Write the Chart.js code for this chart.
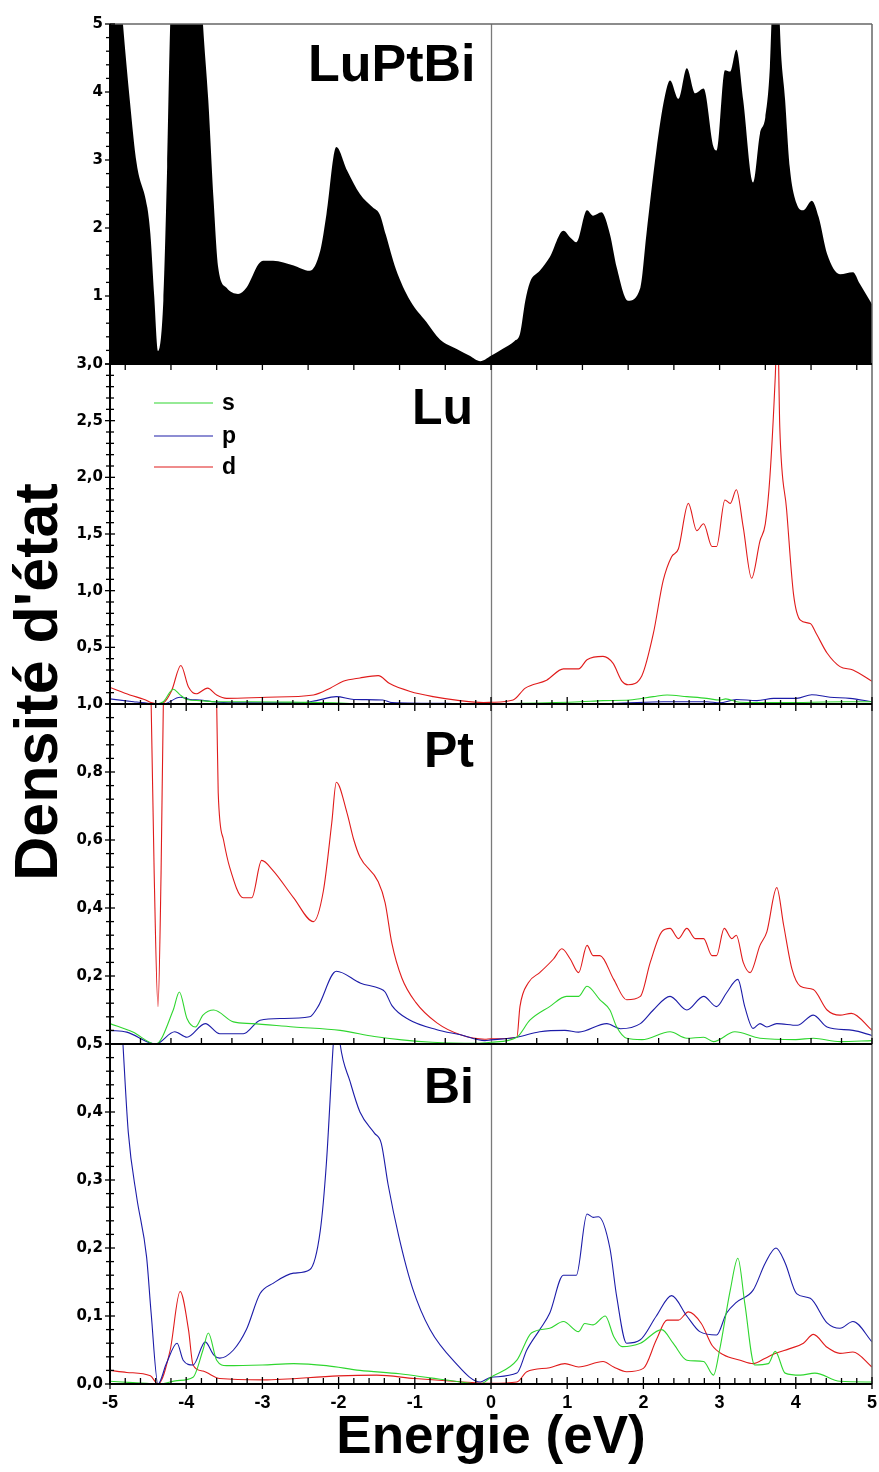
<!DOCTYPE html>
<html>
<head>
<meta charset="utf-8">
<script src="https://cdn.jsdelivr.net/npm/chart.js@4.4.1/dist/chart.umd.min.js"></script>
<style>
  html, body { margin: 0; padding: 0; background: #fff; }
  #wrap { position: relative; width: 879px; height: 1472px; }
</style>
</head>
<body>
<div id="wrap"><canvas id="dos" width="879" height="1472"></canvas></div>
<script>
// ---- densities of states, energy in eV ----
const totE = [-5.0, -4.9, -4.83, -4.74, -4.65, -4.51, -4.47, -4.42, -4.37, -4.30, -4.25, -4.21, -4.15, -3.85, -3.78, -3.71, -3.64, -3.58, -3.47, -3.32, -3.21, -3.05, -2.99, -2.86, -2.59, -2.38, -2.24, -2.16, -2.03, -1.89, -1.72, -1.55, -1.46, -1.38, -1.25, -1.06, -0.85, -0.67, -0.45, -0.28, -0.14, 0.0, 0.15, 0.31, 0.38, 0.45, 0.51, 0.64, 0.77, 0.95, 1.05, 1.12, 1.26, 1.34, 1.45, 1.56, 1.65, 1.80, 1.96, 2.04, 2.17, 2.28, 2.35, 2.46, 2.57, 2.68, 2.79, 2.92, 2.96, 3.07, 3.14, 3.22, 3.31, 3.44, 3.53, 3.60, 3.66, 3.68, 3.73, 3.76, 3.79, 3.86, 3.92, 4.01, 4.10, 4.21, 4.30, 4.41, 4.58, 4.75, 4.84, 5.0];
const totV = [6.5, 6.0, 5.0, 3.88, 2.95, 2.3, 1.91, 1.0, 0.19, 0.93, 2.9, 5.0, 6.5, 6.5, 5.0, 3.88, 2.4, 1.42, 1.12, 1.03, 1.12, 1.47, 1.52, 1.52, 1.45, 1.37, 1.67, 2.2, 3.19, 2.85, 2.5, 2.3, 2.2, 1.9, 1.4, 0.93, 0.62, 0.36, 0.22, 0.12, 0.04, 0.12, 0.22, 0.34, 0.44, 0.93, 1.2, 1.37, 1.57, 1.96, 1.85, 1.79, 2.26, 2.18, 2.23, 1.91, 1.42, 0.93, 1.12, 1.91, 3.14, 3.93, 4.17, 3.9, 4.35, 3.98, 4.05, 3.19, 3.14, 4.32, 4.3, 4.62, 3.88, 2.67, 3.39, 3.63, 4.37, 5.0, 6.5, 6.5, 5.0, 3.88, 2.9, 2.36, 2.26, 2.4, 2.16, 1.62, 1.32, 1.35, 1.18, 0.88];

const luSE = [-5.0, -4.4, -4.3, -4.17, -4.08, -3.99, -3.82, -3.6, -3.16, -2.5, -2.07, -1.85, -1.0, 0.0, 0.29, 1.17, 1.47, 1.82, 2.13, 2.31, 2.57, 2.83, 3.0, 3.08, 3.26, 3.79, 4.66, 5.0];
const luSV = [0.005, 0.0, 0.02, 0.13, 0.08, 0.04, 0.03, 0.02, 0.02, 0.015, 0.01, 0.005, 0.003, 0.002, 0.005, 0.02, 0.03, 0.035, 0.065, 0.08, 0.065, 0.05, 0.035, 0.045, 0.015, 0.012, 0.02, 0.02];
const luPE = [-5.0, -4.69, -4.47, -4.3, -4.08, -3.95, -3.82, -3.65, -3.4, -2.5, -2.29, -2.03, -1.8, -1.42, -1.3, -0.5, 0.0, 0.29, 1.6, 2.26, 2.83, 3.0, 3.22, 3.49, 3.71, 4.01, 4.21, 4.45, 4.71, 5.0];
const luPV = [0.045, 0.02, 0.005, 0.0, 0.06, 0.04, 0.035, 0.02, 0.01, 0.01, 0.03, 0.065, 0.04, 0.035, 0.012, 0.005, 0.002, 0.003, 0.005, 0.02, 0.02, 0.01, 0.04, 0.03, 0.05, 0.05, 0.082, 0.06, 0.05, 0.02];
const luDE = [-5.0, -4.74, -4.55, -4.45, -4.37, -4.3, -4.19, -4.07, -3.97, -3.87, -3.72, -3.60, -3.47, -2.94, -2.33, -2.11, -1.94, -1.72, -1.48, -1.33, -1.06, -0.76, -0.41, -0.10, 0.0, 0.29, 0.45, 0.73, 0.95, 1.15, 1.26, 1.47, 1.6, 1.72, 1.80, 1.98, 2.13, 2.26, 2.37, 2.46, 2.59, 2.70, 2.79, 2.90, 2.96, 3.07, 3.14, 3.22, 3.31, 3.42, 3.53, 3.60, 3.66, 3.73, 3.76, 3.79, 3.88, 3.97, 4.06, 4.19, 4.27, 4.41, 4.58, 4.75, 5.0];
const luDV = [0.146, 0.08, 0.04, 0.01, 0.0, 0.01, 0.12, 0.34, 0.15, 0.09, 0.14, 0.08, 0.05, 0.06, 0.08, 0.14, 0.20, 0.23, 0.25, 0.18, 0.11, 0.065, 0.03, 0.013, 0.015, 0.035, 0.14, 0.21, 0.31, 0.31, 0.39, 0.42, 0.36, 0.2, 0.17, 0.25, 0.62, 1.09, 1.30, 1.37, 1.77, 1.53, 1.59, 1.39, 1.39, 1.80, 1.77, 1.89, 1.56, 1.11, 1.44, 1.59, 2.0, 2.88, 3.4, 2.44, 1.71, 0.97, 0.74, 0.71, 0.62, 0.45, 0.33, 0.30, 0.20];

const ptSE = [-5.0, -4.7, -4.4, -4.17, -4.09, -3.99, -3.88, -3.78, -3.64, -3.38, -3.14, -2.59, -1.98, -1.53, -1.17, -0.77, -0.2, 0.0, 0.34, 0.51, 0.77, 0.99, 1.15, 1.26, 1.43, 1.56, 1.65, 1.78, 1.98, 2.35, 2.57, 2.79, 2.92, 3.2, 3.53, 4.0, 4.23, 4.58, 5.0];
const ptSV = [0.06, 0.035, 0.0, 0.10, 0.153, 0.075, 0.05, 0.085, 0.10, 0.065, 0.06, 0.05, 0.04, 0.022, 0.012, 0.005, 0.002, 0.005, 0.02, 0.07, 0.11, 0.14, 0.14, 0.17, 0.13, 0.10, 0.05, 0.017, 0.013, 0.036, 0.017, 0.02, 0.007, 0.036, 0.017, 0.013, 0.017, 0.007, 0.01];
const ptPE = [-5.0, -4.78, -4.4, -4.15, -3.99, -3.75, -3.56, -3.25, -3.03, -2.75, -2.38, -2.27, -2.03, -1.71, -1.46, -1.39, -1.30, -1.08, -0.71, -0.40, -0.08, 0.0, 0.34, 0.64, 0.97, 1.15, 1.52, 1.7, 1.96, 2.13, 2.35, 2.57, 2.79, 2.96, 3.09, 3.24, 3.33, 3.44, 3.53, 3.62, 3.75, 4.02, 4.23, 4.41, 4.75, 5.0];
const ptPV = [0.04, 0.035, 0.0, 0.036, 0.02, 0.06, 0.03, 0.03, 0.07, 0.075, 0.08, 0.11, 0.214, 0.179, 0.163, 0.153, 0.113, 0.072, 0.042, 0.027, 0.01, 0.012, 0.02, 0.036, 0.04, 0.035, 0.06, 0.045, 0.06, 0.10, 0.14, 0.10, 0.14, 0.11, 0.15, 0.19, 0.11, 0.046, 0.06, 0.05, 0.06, 0.055, 0.085, 0.05, 0.04, 0.025];
const ptDE = [-5.0, -4.5, -4.46, -4.42, -4.37, -4.33, -4.30, -4.25, -3.65, -3.60, -3.58, -3.51, -3.43, -3.25, -3.14, -3.01, -2.86, -2.59, -2.33, -2.20, -2.09, -2.03, -1.89, -1.80, -1.72, -1.48, -1.39, -1.30, -1.17, -0.99, -0.71, -0.40, -0.08, 0.0, 0.34, 0.38, 0.49, 0.64, 0.82, 0.93, 1.04, 1.15, 1.26, 1.34, 1.43, 1.61, 1.78, 1.96, 2.09, 2.24, 2.35, 2.46, 2.57, 2.68, 2.79, 2.90, 2.96, 3.06, 3.16, 3.22, 3.31, 3.40, 3.53, 3.62, 3.75, 3.84, 3.95, 4.06, 4.23, 4.41, 4.58, 4.73, 5.0];
const ptDV = [1.3, 1.3, 1.0, 0.5, 0.11, 0.5, 1.0, 1.3, 1.3, 1.0, 0.74, 0.6, 0.52, 0.43, 0.43, 0.54, 0.51, 0.43, 0.36, 0.45, 0.65, 0.77, 0.68, 0.60, 0.55, 0.477, 0.416, 0.295, 0.194, 0.123, 0.062, 0.027, 0.014, 0.015, 0.02, 0.11, 0.18, 0.21, 0.25, 0.28, 0.25, 0.21, 0.29, 0.26, 0.26, 0.19, 0.13, 0.14, 0.24, 0.33, 0.34, 0.31, 0.34, 0.31, 0.31, 0.26, 0.26, 0.34, 0.31, 0.32, 0.24, 0.21, 0.29, 0.33, 0.46, 0.35, 0.22, 0.17, 0.16, 0.10, 0.085, 0.09, 0.04];

const biSE = [-5.0, -4.7, -4.35, -4.12, -3.91, -3.78, -3.71, -3.6, -3.47, -3.0, -2.59, -2.16, -1.72, -1.2, -0.8, -0.4, -0.14, 0.0, 0.34, 0.53, 0.77, 0.95, 1.15, 1.23, 1.34, 1.50, 1.61, 1.72, 1.96, 2.24, 2.39, 2.57, 2.79, 2.92, 3.0, 3.14, 3.24, 3.33, 3.46, 3.64, 3.73, 3.86, 4.06, 4.25, 4.58, 5.0];
const biSV = [0.004, 0.002, 0.0, 0.005, 0.01, 0.05, 0.075, 0.035, 0.027, 0.028, 0.03, 0.027, 0.02, 0.015, 0.009, 0.003, 0.0, 0.01, 0.035, 0.075, 0.082, 0.092, 0.077, 0.089, 0.087, 0.1, 0.07, 0.055, 0.06, 0.08, 0.06, 0.035, 0.033, 0.013, 0.05, 0.138, 0.185, 0.119, 0.028, 0.03, 0.048, 0.016, 0.013, 0.016, 0.004, 0.003];
const biPE = [-5.0, -4.88, -4.83, -4.76, -4.65, -4.52, -4.46, -4.37, -4.26, -4.12, -4.04, -3.91, -3.75, -3.64, -3.56, -3.38, -3.21, -3.03, -2.86, -2.59, -2.38, -2.24, -2.16, -2.07, -2.03, -1.98, -1.85, -1.72, -1.53, -1.44, -1.35, -1.21, -1.03, -0.80, -0.49, -0.14, 0.0, 0.34, 0.47, 0.64, 0.77, 0.95, 1.12, 1.26, 1.34, 1.41, 1.56, 1.65, 1.78, 1.96, 2.17, 2.37, 2.57, 2.74, 2.96, 3.09, 3.22, 3.44, 3.60, 3.74, 3.86, 4.01, 4.19, 4.41, 4.58, 4.75, 5.0];
const biPV = [0.7, 0.6, 0.5, 0.37, 0.275, 0.187, 0.104, 0.0, 0.03, 0.06, 0.035, 0.028, 0.062, 0.043, 0.038, 0.05, 0.08, 0.133, 0.148, 0.163, 0.168, 0.226, 0.325, 0.5, 0.56, 0.5, 0.445, 0.40, 0.369, 0.354, 0.293, 0.217, 0.141, 0.08, 0.034, 0.003, 0.01, 0.016, 0.05, 0.08, 0.104, 0.16, 0.16, 0.25, 0.245, 0.246, 0.20, 0.128, 0.06, 0.065, 0.10, 0.13, 0.10, 0.077, 0.072, 0.104, 0.12, 0.138, 0.178, 0.20, 0.178, 0.133, 0.126, 0.09, 0.082, 0.092, 0.062];
const biDE = [-5.0, -4.78, -4.47, -4.37, -4.21, -4.08, -3.97, -3.91, -3.78, -3.56, -2.99, -2.0, -1.5, -1.0, -0.5, 0.0, 0.34, 0.47, 0.77, 0.97, 1.15, 1.47, 1.61, 1.78, 2.0, 2.17, 2.31, 2.46, 2.59, 2.76, 2.9, 3.05, 3.27, 3.44, 3.6, 3.73, 3.92, 4.1, 4.23, 4.41, 4.58, 4.75, 5.0];
const biDV = [0.02, 0.017, 0.012, 0.0, 0.05, 0.136, 0.08, 0.028, 0.019, 0.008, 0.006, 0.012, 0.013, 0.008, 0.004, 0.001, 0.003, 0.018, 0.024, 0.03, 0.025, 0.033, 0.025, 0.018, 0.023, 0.065, 0.094, 0.094, 0.106, 0.089, 0.057, 0.043, 0.035, 0.03, 0.038, 0.045, 0.052, 0.06, 0.073, 0.054, 0.045, 0.047, 0.025];

// panel titles and legend entries
const panelNames = ['LuPtBi', 'Lu', 'Pt', 'Bi'];
const orbitals = ['s', 'p', 'd'];

const GREEN = '#2fd62f', BLUE = '#1c1ca8', RED = '#e01b1b';
const orbColors = [GREEN, BLUE, RED];
const FONT = '"Liberation Sans", Arial, sans-serif';
const WIDE = '"DejaVu Sans", Verdana, sans-serif';
const NARROW = '"Liberation Sans Narrow", "Liberation Sans", Arial, sans-serif';

const pts = (E, V) => E.map((e, i) => ({ x: e, y: V[i] }));
const isMult = (v, m) => Math.abs(v / m - Math.round(v / m)) < 1e-6;
function stepTicks(min, max, step) {
    const out = [];
    const n = Math.round((max - min) / step);
    for (let i = 0; i <= n; i++) out.push(+(min + i * step).toFixed(4));
    return out;
}

// y axes: max, minor step, major step, decimals, keep the zero label
const axisSpec = {
    yTot: { max: 5, minor: 0.2, major: 1, digits: 0, zero: false },
    yLu:  { max: 3, minor: 0.1, major: 0.5, digits: 1, zero: false },
    yPt:  { max: 1, minor: 0.04, major: 0.2, digits: 1, zero: false },
    yBi:  { max: 0.5, minor: 0.02, major: 0.1, digits: 1, zero: true }
};

function panelAxis(id) {
    const a = axisSpec[id];
    return {
        type: 'linear', position: 'left', stack: 'dos', stackWeight: 1,
        min: 0, max: a.max,
        grid: { display: false, drawTicks: false },
        border: { display: false },
        afterBuildTicks: s => { s.ticks = stepTicks(0, a.max, a.minor).map(v => ({ value: v })); },
        afterFit: s => { s.width = 110; },
        ticks: {
            autoSkip: false, padding: 7, color: '#000',
            font: { family: WIDE, size: 15, weight: 'bold' },
            callback: v => {
                if (!isMult(v, a.major)) return '';
                if (Math.abs(v) < 1e-9 && !a.zero) return '';
                return v.toFixed(a.digits).replace('.', ',');
            }
        }
    };
}

const line = (E, V, color, axis) => ({
    data: pts(E, V), yAxisID: axis, borderColor: color, borderWidth: 1.1,
    pointRadius: 0, fill: false, cubicInterpolationMode: 'monotone'
});

// keep each curve inside its own panel
const panelClip = {
    id: 'panelClip',
    beforeDatasetDraw(chart, args) {
        const ys = chart.scales[args.meta.yAxisID];
        const a = chart.chartArea;
        const ctx = chart.ctx;
        ctx.save();
        ctx.beginPath();
        ctx.rect(a.left, ys.top, a.right - a.left, ys.bottom - ys.top);
        ctx.clip();
    },
    afterDatasetDraw(chart) { chart.ctx.restore(); }
};

function seg(ctx, x1, y1, x2, y2) {
    ctx.beginPath(); ctx.moveTo(x1, y1); ctx.lineTo(x2, y2); ctx.stroke();
}

// frame, tick marks, panel names, legend, y title
const decor = {
    id: 'decor',
    beforeDatasetsDraw(chart) {
        const { ctx, chartArea: a, scales: { x } } = chart;
        ctx.save();
        ctx.strokeStyle = '#7a7a7a'; ctx.lineWidth = 1.3;
        const x0 = Math.round(x.getPixelForValue(0)) + 0.5;
        seg(ctx, x0, a.top, x0, a.bottom);
        ctx.restore();
    },
    afterDatasetsDraw(chart) {
        const { ctx, chartArea: a, scales } = chart;
        const x = scales.x;
        ctx.save();

        // top and right borders
        ctx.strokeStyle = '#666'; ctx.lineWidth = 1.5;
        seg(ctx, a.left, a.top, a.right, a.top);
        seg(ctx, a.right, a.top, a.right, a.bottom);

        // panel bottoms and left axis
        ctx.strokeStyle = '#000'; ctx.lineWidth = 2;
        ['yTot', 'yLu', 'yPt', 'yBi'].forEach(id => seg(ctx, a.left - 1, scales[id].bottom, a.right, scales[id].bottom));
        seg(ctx, a.left, a.top, a.left, a.bottom);

        // y ticks, crossing the axis
        ctx.lineWidth = 1.3;
        Object.keys(axisSpec).forEach(id => {
            const s = scales[id], sp = axisSpec[id];
            s.ticks.forEach(t => {
                const y = s.getPixelForValue(t.value);
                const len = isMult(t.value, sp.major) ? 5 : 4;
                seg(ctx, a.left - len, y, a.left + len, y);
            });
        });

        // x ticks on each panel bottom
        const xTicks = (yPix, step, major, up, down, mUp, mDown) => {
            stepTicks(-5, 5, step).forEach(v => {
                const px = x.getPixelForValue(v);
                const big = isMult(v, major);
                seg(ctx, px, yPix - (big ? mUp : up), px, yPix + (big ? mDown : down));
            });
        };
        // top panel: marks every 0.6 eV around the Fermi level, pointing down
        stepTicks(-4.8, 4.8, 0.6).forEach(v => {
            const px = x.getPixelForValue(v);
            seg(ctx, px, scales.yTot.bottom, px, scales.yTot.bottom + 6);
        });
        xTicks(scales.yLu.bottom, 0.2, 1, 4, 4, 7, 7);
        xTicks(scales.yPt.bottom, 0.4, 2, 6, 0, 7, 6);
        xTicks(scales.yBi.bottom, 0.2, 1, 6, 0, 7, 5);

        // panel names
        ctx.fillStyle = '#000';
        ctx.textAlign = 'left'; ctx.textBaseline = 'alphabetic';
        const nameAt = [[308, 81, 52], [412, 424, 50], [424, 767, 50], [424, 1103, 50]];
        panelNames.forEach((n, i) => {
            ctx.font = 'bold ' + nameAt[i][2] + 'px ' + FONT;
            ctx.fillText(n, nameAt[i][0], nameAt[i][1]);
        });

        // orbital legend in the Lu panel
        const legY = [403, 436, 467];
        ctx.lineWidth = 1.2;
        ctx.font = 'bold 23px ' + FONT;
        orbitals.forEach((o, i) => {
            ctx.strokeStyle = orbColors[i];
            seg(ctx, 154, legY[i], 213, legY[i]);
            ctx.textBaseline = 'middle';
            ctx.fillText(o, 222, legY[i] + 1);
        });

        // vertical axis title
        ctx.translate(40, 682);
        ctx.rotate(-Math.PI / 2);
        ctx.textAlign = 'center'; ctx.textBaseline = 'middle';
        ctx.font = 'bold 61px ' + FONT;
        ctx.fillText("Densité d'état", 0, 0);
        ctx.restore();
    }
};

new Chart(document.getElementById('dos'), {
    type: 'line',
    data: {
        datasets: [
            { data: pts(totE, totV), yAxisID: 'yTot', borderWidth: 0, borderColor: '#000', backgroundColor: '#000',
              fill: 'origin', pointRadius: 0, cubicInterpolationMode: 'monotone' },
            line(luSE, luSV, GREEN, 'yLu'), line(luPE, luPV, BLUE, 'yLu'), line(luDE, luDV, RED, 'yLu'),
            line(ptSE, ptSV, GREEN, 'yPt'), line(ptPE, ptPV, BLUE, 'yPt'), line(ptDE, ptDV, RED, 'yPt'),
            line(biSE, biSV, GREEN, 'yBi'), line(biPE, biPV, BLUE, 'yBi'), line(biDE, biDV, RED, 'yBi')
        ]
    },
    options: {
        responsive: false,
        animation: false,
        devicePixelRatio: 1,
        layout: { padding: { top: 24, right: 7, left: 0, bottom: 0 } },
        plugins: { legend: { display: false }, tooltip: { enabled: false } },
        scales: {
            x: {
                type: 'linear', position: 'bottom', min: -5, max: 5,
                grid: { display: false, drawTicks: false },
                border: { display: false },
                afterBuildTicks: s => { s.ticks = stepTicks(-5, 5, 1).map(v => ({ value: v })); },
                afterFit: s => { s.height = 88; s.paddingLeft = 0; s.paddingRight = 0; },
                ticks: { autoSkip: false, maxRotation: 0, padding: 8, color: '#000',
                         font: { family: NARROW, size: 18, weight: 'bold' },
                         callback: v => String(Math.round(v)) },
                title: { display: true, text: 'Energie (eV)', color: '#000',
                         font: { family: FONT, size: 53, weight: 'bold' }, padding: { top: 0, bottom: 2 } }
            },
            yBi: panelAxis('yBi'),
            yPt: panelAxis('yPt'),
            yLu: panelAxis('yLu'),
            yTot: panelAxis('yTot')
        }
    },
    plugins: [panelClip, decor]
});
</script>
</body>
</html>
